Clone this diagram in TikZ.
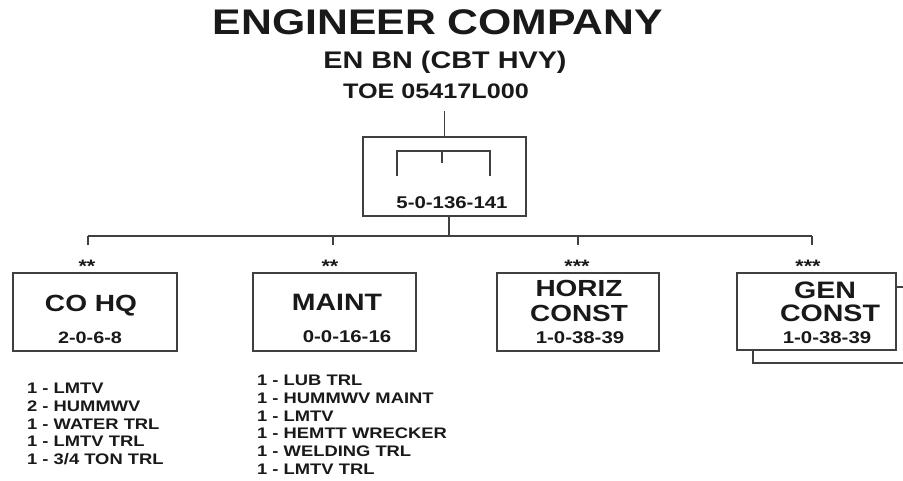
\documentclass[tikz,border=0pt]{standalone}
\usepackage{fontspec}
\newfontfamily\wf{Liberation Sans Bold}[FakeStretch=1.2]
\newcommand\fs[1]{\wf\fontsize{#1}{#1}\selectfont}
\newcommand\lfs{\wf\fontsize{15.3}{17.7}\selectfont}
\tikzset{
  ln/.style={draw=black!75, line width=1.4pt},
  unit/.style={ln, rectangle, inner sep=0pt, fill=white},
  txt/.style={inner sep=0pt, text depth=0pt, text=black!90},
  stars/.style={txt, anchor=base, font=\fs{18}},
}
\begin{document}
\begin{tikzpicture}[x=1pt,y=-1pt]
\useasboundingbox (0,0) rectangle (903,480);
% titles
\node[txt,font=\fs{35.6}] (title) at (438,22) {ENGINEER COMPANY};
\node[txt,font=\fs{24}] (enbn) at (445,60) {EN BN (CBT HVY)};
\node[txt,font=\fs{21}] (toe) at (436,91) {TOE 05417L000};
% company HQ box
\node[unit,minimum width=163pt,minimum height=79pt] (hq) at (444.5,176.5) {};
\draw[ln] (hq.north) -- ++(0,-25);
\draw[ln] (397,176) -- (397,151) -- (490,151) -- (490,176);
\draw[ln] (442,151) -- (442,163);
\node[txt,font=\fs{17}] (hqnum) at (452,203) {5-0-136-141};
% bus
\coordinate (bus) at (449,236);
\coordinate (j1) at (88,236);
\coordinate (j2) at (333,236);
\coordinate (j3) at (578,236);
\coordinate (j4) at (812,236);
\draw[ln] (hq.south -| bus) -- (bus);
\draw[ln] (j1) -- (j4);
\foreach \j in {j1,j2,j3,j4} \draw[ln] (\j) -- ++(0,9);
% stars
\node[stars] (s1) at (87,272) {**};
\node[stars] (s2) at (330,272) {**};
\node[stars] (s3) at (577,272) {***};
\node[stars] (s4) at (808,272) {***};
% GEN CONST shadow
\draw[ln] (753,287) -- (753,363) -- (903,363);
\draw[ln] (753,287) -- (903,287);
% unit boxes
\node[unit,minimum width=164pt,minimum height=78pt] (cohq) at (95,312) {};
\node[unit,minimum width=163pt,minimum height=78pt] (maint) at (334.5,312) {};
\node[unit,minimum width=162pt,minimum height=78pt] (horiz) at (578,312) {};
\node[unit,minimum width=159pt,minimum height=77pt] (gen) at (816.5,311.5) {};
% box texts
\node[txt,font=\fs{23.4}] (t1) at (91,303) {CO HQ};
\node[txt,font=\fs{16.5}] (n1) at (90,338) {2-0-6-8};
\node[txt,font=\fs{23.7}] (t2) at (337,302) {MAINT};
\node[txt,font=\fs{17}] (n2) at (347,337) {0-0-16-16};
\node[txt,font=\fs{23.3}] (t3a) at (579,288) {HORIZ};
\node[txt,font=\fs{23.3}] (t3b) at (579,313) {CONST};
\node[txt,font=\fs{17}] (n3) at (580,338) {1-0-38-39};
\node[txt,font=\fs{23.8}] (t4a) at (825,290) {GEN};
\node[txt,font=\fs{23.8}] (t4b) at (830,313) {CONST};
\node[txt,font=\fs{17}] (n4) at (827,338) {1-0-38-39};
% equipment lists
\node[txt,anchor=north west,align=left,font=\lfs] (l1) at (27,383)
  {1 - LMTV\\2 - HUMMWV\\1 - WATER TRL\\1 - LMTV TRL\\1 - 3/4 TON TRL};
\node[txt,anchor=north west,align=left,font=\lfs] (l2) at (257,375)
  {1 - LUB TRL\\1 - HUMMWV MAINT\\1 - LMTV\\1 - HEMTT WRECKER\\1 - WELDING TRL\\1 - LMTV TRL};
\end{tikzpicture}
\end{document}
